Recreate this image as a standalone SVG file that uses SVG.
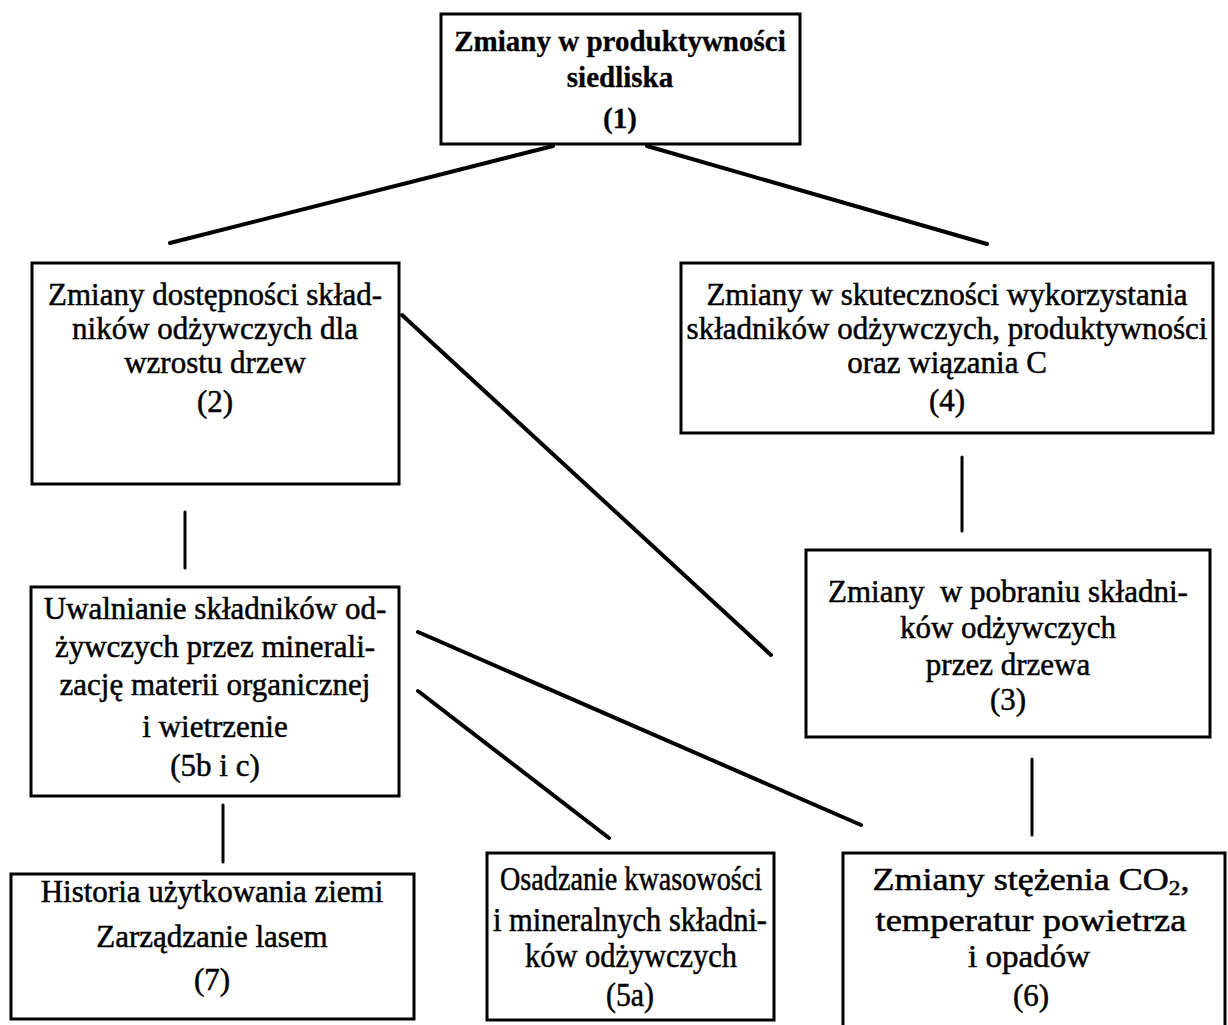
<svg xmlns="http://www.w3.org/2000/svg" width="1228" height="1025" viewBox="0 0 1228 1025">
<style>
.box{fill:#fff;stroke:#000;stroke-width:3}
.t{font-family:"Liberation Serif","Times New Roman",serif;font-size:31px;fill:#000;stroke:#000;stroke-width:0.5;text-anchor:middle}
.b{font-weight:bold;font-size:29px;stroke-width:0.3}
.n{font-size:33px}
.c{stroke:#000;stroke-width:4;stroke-linecap:round;fill:none}
.v{stroke-width:3}
</style>
<rect width="1228" height="1025" fill="#fff"/>
<g id="connectors">
<line class="c" x1="553" y1="146" x2="170" y2="243"/>
<line class="c" x1="647" y1="146" x2="987" y2="244"/>
<line class="c" x1="402" y1="315" x2="771" y2="655"/>
<line class="c v" x1="185" y1="512" x2="185" y2="568"/>
<line class="c v" x1="962" y1="457" x2="962" y2="531"/>
<line class="c v" x1="1032" y1="759" x2="1032" y2="835"/>
<line class="c" x1="418" y1="632" x2="861" y2="825"/>
<line class="c" x1="418" y1="691" x2="609" y2="838"/>
<line class="c v" x1="223" y1="805" x2="223" y2="862"/>
</g>
<g id="n1">
<rect class="box" x="441" y="14" width="359" height="130"/>
<text class="t b" x="620" y="51">Zmiany w produktywności</text>
<text class="t b" x="620" y="87">siedliska</text>
<text class="t b" x="620" y="128">(1)</text>
</g>
<g id="n2">
<rect class="box" x="32" y="263" width="367" height="221"/>
<text class="t" x="215" y="305">Zmiany dostępności skład-</text>
<text class="t" x="215" y="339">ników odżywczych dla</text>
<text class="t" x="215" y="373">wzrostu drzew</text>
<text class="t" x="215" y="412">(2)</text>
</g>
<g id="n4">
<rect class="box" x="681" y="263" width="532" height="170"/>
<text class="t" x="947" y="305">Zmiany w skuteczności wykorzystania</text>
<text class="t" x="947" y="339">składników odżywczych, produktywności</text>
<text class="t" x="947" y="373">oraz wiązania C</text>
<text class="t" x="947" y="411">(4)</text>
</g>
<g id="n3">
<rect class="box" x="806" y="550" width="404" height="187"/>
<text class="t" x="1008" y="602" xml:space="preserve">Zmiany  w pobraniu składni-</text>
<text class="t" x="1008" y="638">ków odżywczych</text>
<text class="t" x="1008" y="675">przez drzewa</text>
<text class="t" x="1008" y="710">(3)</text>
</g>
<g id="n5bc">
<rect class="box" x="31" y="587" width="368" height="209"/>
<text class="t" x="215" y="619">Uwalnianie składników od-</text>
<text class="t" x="215" y="657">żywczych przez minerali-</text>
<text class="t" x="215" y="695">zację materii organicznej</text>
<text class="t" x="215" y="737">i wietrzenie</text>
<text class="t" x="215" y="776">(5b i c)</text>
</g>
<g id="n7">
<rect class="box" x="11" y="874" width="403" height="145"/>
<text class="t" x="212" y="902">Historia użytkowania ziemi</text>
<text class="t" x="212" y="947">Zarządzanie lasem</text>
<text class="t" x="212" y="990">(7)</text>
</g>
<g id="n5a">
<rect class="box" x="487" y="853" width="287" height="167"/>
<text class="t n" x="631" y="890" textLength="262" lengthAdjust="spacingAndGlyphs">Osadzanie kwasowości</text>
<text class="t n" x="630" y="931" textLength="274" lengthAdjust="spacingAndGlyphs">i mineralnych składni-</text>
<text class="t n" x="631" y="967" textLength="212" lengthAdjust="spacingAndGlyphs">ków odżywczych</text>
<text class="t n" x="630" y="1006" textLength="48" lengthAdjust="spacingAndGlyphs">(5a)</text>
</g>
<g id="n6">
<rect class="box" x="843" y="853" width="382" height="180"/>
<text class="t" x="1031" y="890" textLength="317" lengthAdjust="spacingAndGlyphs">Zmiany stężenia CO<tspan font-size="20" dy="5">2</tspan><tspan dy="-5">,</tspan></text>
<text class="t" x="1031" y="931" textLength="311" lengthAdjust="spacingAndGlyphs">temperatur powietrza</text>
<text class="t" x="1029" y="967" textLength="122" lengthAdjust="spacingAndGlyphs">i opadów</text>
<text class="t" x="1031" y="1006">(6)</text>
</g>
</svg>
